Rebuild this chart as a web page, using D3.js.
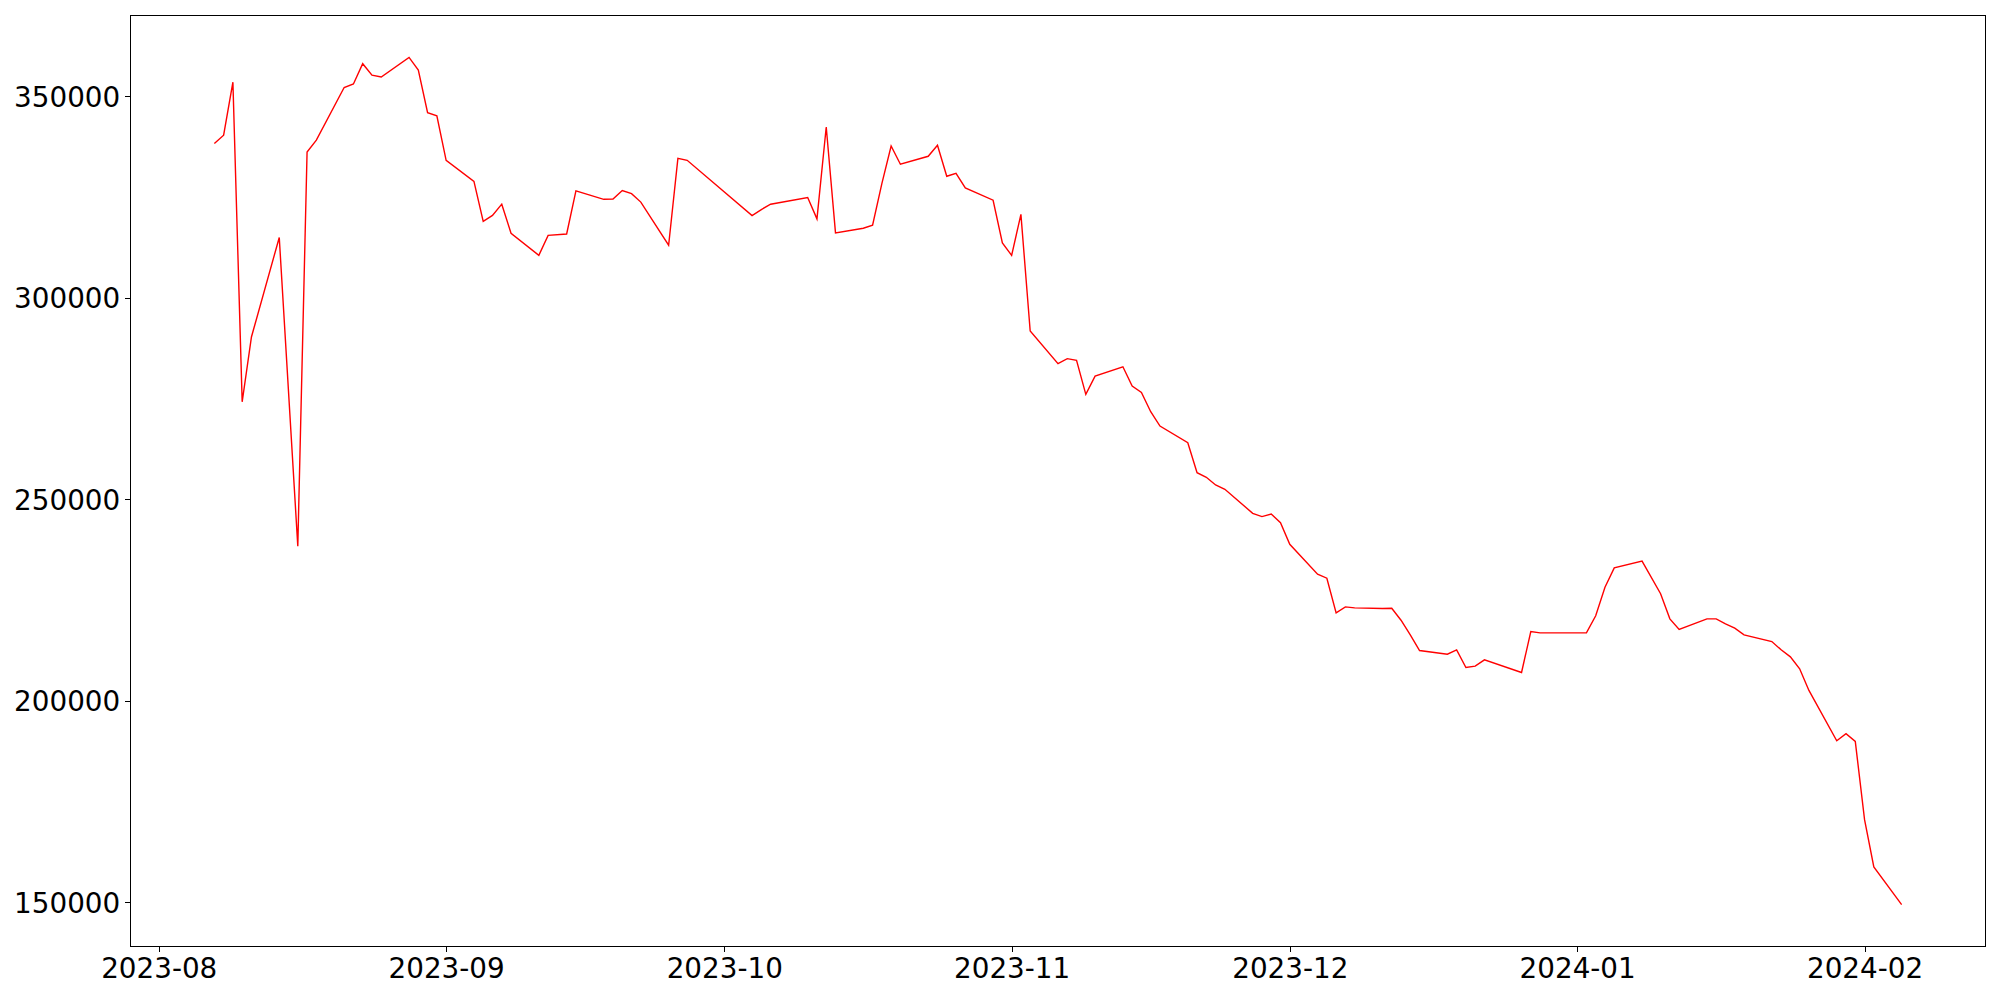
<!DOCTYPE html>
<html>
<head>
<meta charset="utf-8">
<script src="https://cdn.jsdelivr.net/npm/d3@7"></script>
<style>
  body { margin: 0; background: white; }
  text { font-family: "DejaVu Sans", sans-serif; }
</style>
</head>
<body>
<div id="chart-area"></div>
<script>
// Data
var dates = [
  "2023-08-07","2023-08-08","2023-08-09","2023-08-10","2023-08-11","2023-08-14","2023-08-16","2023-08-17","2023-08-18",
  "2023-08-21","2023-08-22","2023-08-23","2023-08-24","2023-08-25","2023-08-28","2023-08-29","2023-08-30","2023-08-31",
  "2023-09-01","2023-09-04","2023-09-05","2023-09-06","2023-09-07","2023-09-08","2023-09-11","2023-09-12","2023-09-14",
  "2023-09-15","2023-09-18","2023-09-19","2023-09-20","2023-09-21","2023-09-22","2023-09-25","2023-09-26","2023-09-27",
  "2023-10-04","2023-10-05","2023-10-06","2023-10-10","2023-10-11","2023-10-12","2023-10-13","2023-10-16","2023-10-17",
  "2023-10-18","2023-10-19","2023-10-20","2023-10-23","2023-10-24","2023-10-25","2023-10-26","2023-10-27","2023-10-30",
  "2023-10-31","2023-11-01","2023-11-02","2023-11-03","2023-11-06","2023-11-07","2023-11-08","2023-11-09","2023-11-10",
  "2023-11-13","2023-11-14","2023-11-15","2023-11-16","2023-11-17","2023-11-20","2023-11-21","2023-11-22","2023-11-23",
  "2023-11-24","2023-11-27","2023-11-28","2023-11-29","2023-11-30","2023-12-01","2023-12-04","2023-12-05","2023-12-06",
  "2023-12-07","2023-12-08","2023-12-11","2023-12-12","2023-12-13","2023-12-14","2023-12-15","2023-12-18","2023-12-19",
  "2023-12-20","2023-12-21","2023-12-22","2023-12-26","2023-12-27","2023-12-28","2024-01-02","2024-01-03","2024-01-04",
  "2024-01-05","2024-01-08","2024-01-10","2024-01-11","2024-01-12","2024-01-15","2024-01-16","2024-01-17","2024-01-18",
  "2024-01-19","2024-01-22","2024-01-23","2024-01-24","2024-01-25","2024-01-26","2024-01-29","2024-01-30","2024-01-31",
  "2024-02-01","2024-02-02","2024-02-05"
];
var values = [
  338200, 340290, 353420, 274140, 290220, 314910, 238320, 336120, 339070,
  352110, 352980, 358020, 355160, 354720, 359590, 356460, 345850, 345070,
  334030, 328820, 318900, 320380, 323170, 315950, 310470, 315430, 315780,
  326470, 324380, 324470, 326560, 325770, 323690, 312990, 334550, 334060,
  320350, 321840, 323160, 324810, 319520, 342320, 316050, 317210, 317950,
  328280, 337610, 333070, 335050, 337780, 330100, 330840, 327210, 324150,
  313570, 310480, 320640, 291720, 283620, 284860, 284450, 275980, 280530,
  282840, 278050, 276480, 271690, 268130, 264000, 256570, 255410, 253510,
  252440, 246490, 245660, 246320, 244170, 238800, 231370, 230380, 221790,
  223270, 223030, 222860, 222940, 219970, 216330, 212450, 211540, 212620,
  208240, 208570, 210140, 207000, 217160, 216830, 216830, 221080, 228150,
  232940, 234630, 226540, 220300, 217660, 220300, 220300, 219060, 217990,
  216330, 214680, 212620, 210880, 207910, 202540, 190060, 191800, 189900,
  170480, 158750, 149410
];
var yTicks = [150000, 200000, 250000, 300000, 350000];

var margin = {top: 15, right: 14, bottom: 53, left: 130};
var width = 2000 - margin.left - margin.right;
var height = 1000 - margin.top - margin.bottom;
var fontSize = 27.8;

var parse = d3.utcParse("%Y-%m-%d");
var data = dates.map((d, i) => { return {date: parse(d), value: values[i]}; });

var svg = d3.select("#chart-area").append("svg").attr("width", 2000).attr("height", 1000);
var g = svg.append("g").attr("transform", "translate(" + margin.left + ", " + margin.top + ")");

// Scales (matplotlib style 5% padding)
var xExt = d3.extent(data, (d) => { return +d.date; });
var xPad = (xExt[1] - xExt[0]) * 0.05;
var x = d3.scaleUtc().domain([new Date(xExt[0] - xPad), new Date(xExt[1] + xPad)]).range([0, width]);

var yExt = d3.extent(data, (d) => { return d.value; });
var yPad = (yExt[1] - yExt[0]) * 0.05;
var y = d3.scaleLinear().domain([yExt[0] - yPad, yExt[1] + yPad]).range([height, 0]);

// Axes
var xAxisCall = d3.axisBottom(x).ticks(d3.utcMonth.every(1)).tickFormat(d3.utcFormat("%Y-%m"))
  .tickSizeInner(4.9).tickSizeOuter(0).tickPadding(4.9);
var xAxisGroup = g.append("g").attr("class", "x axis").attr("transform", "translate(0, " + height + ")").call(xAxisCall);
xAxisGroup.selectAll("text").attr("font-size", fontSize + "px").attr("fill", "black").attr("dy", "0.76em")
  .style("font-family", "DejaVu Sans");

var yAxisCall = d3.axisLeft(y).tickValues(yTicks).tickFormat(d3.format("d"))
  .tickSizeInner(4.9).tickSizeOuter(0).tickPadding(4.9);
var yAxisGroup = g.append("g").attr("class", "y axis").call(yAxisCall);
yAxisGroup.selectAll("text").attr("font-size", fontSize + "px").attr("fill", "black").attr("dy", "0.36em")
  .style("font-family", "DejaVu Sans");

g.selectAll(".tick line").attr("stroke", "black").attr("stroke-width", 1.1).attr("shape-rendering", "crispEdges");
g.selectAll(".domain").remove();

// Line
var line = d3.line().x((d) => { return x(d.date); }).y((d) => { return y(d.value); });
g.append("path").datum(data).attr("fill", "none").attr("stroke", "red").attr("stroke-width", 1.4)
  .attr("stroke-linejoin", "miter").attr("d", line);

// Frame
g.append("rect").attr("x", 0.5).attr("y", 0.5).attr("width", width - 1).attr("height", height - 1)
  .attr("fill", "none").attr("stroke", "black").attr("stroke-width", 1.1).attr("shape-rendering", "crispEdges");
</script>
</body>
</html>
